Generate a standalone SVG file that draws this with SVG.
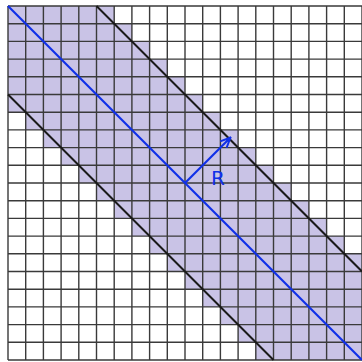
<svg xmlns="http://www.w3.org/2000/svg" width="362" height="362" viewBox="0 0 362 362">
<style>
.grid{fill:none;stroke:#3a3a3a;stroke-width:1.4}
.edge{fill:none;stroke:#1a1a1a;stroke-width:2}
.axis{fill:none;stroke:#1030e8;stroke-width:2.2}
.lbl{font-family:"DejaVu Sans","Liberation Sans",sans-serif;font-size:20px;fill:#1030e8}
</style>
<defs>
<marker id="ah" viewBox="0 0 12 12" refX="11" refY="6" markerWidth="12" markerHeight="12" orient="auto" markerUnits="userSpaceOnUse">
<path d="M1 1.5 L11 6 L1 10.5 M6 6 L11 6" fill="none" stroke="#1030e8" stroke-width="2" stroke-linejoin="miter"/>
</marker>
</defs>
<rect width="362" height="362" fill="#ffffff"/>
<g id="band" transform="translate(8 6) scale(17.7)">
<path fill="#c9c3e6" d="M0 0 H6 V1 H7 V2 H8 V3 H9 V4 H10 V5 H11 V6 H12 V7 H13 V8 H14 V9 H15 V10 H16 V11 H17 V12 H18 V13 H19 V14 H20 V20 H14 V19 H13 V18 H12 V17 H11 V16 H10 V15 H9 V14 H8 V13 H7 V12 H6 V11 H5 V10 H4 V9 H3 V8 H2 V7 H1 V6 H0 Z"/>
</g>
<g id="grid" transform="translate(8 6) scale(17.7)">
<path class="grid" vector-effect="non-scaling-stroke" d="M0 0V20M1 0V20M2 0V20M3 0V20M4 0V20M5 0V20M6 0V20M7 0V20M8 0V20M9 0V20M10 0V20M11 0V20M12 0V20M13 0V20M14 0V20M15 0V20M16 0V20M17 0V20M18 0V20M19 0V20M20 0V20M0 0H20M0 1H20M0 2H20M0 3H20M0 4H20M0 5H20M0 6H20M0 7H20M0 8H20M0 9H20M0 10H20M0 11H20M0 12H20M0 13H20M0 14H20M0 15H20M0 16H20M0 17H20M0 18H20M0 19H20M0 20H20"/>
</g>
<g id="connectors">
<line class="edge" x1="96.5" y1="6" x2="362" y2="271.5"/>
<line class="edge" x1="8" y1="94.5" x2="273.5" y2="360"/>
<line class="axis" x1="8" y1="6" x2="362" y2="360"/>
<line class="axis" x1="185" y1="183" x2="230.5" y2="137.5" marker-end="url(#ah)"/>
</g>
<g id="label-R">
<text class="lbl" x="211" y="185">R</text>
</g>
</svg>
